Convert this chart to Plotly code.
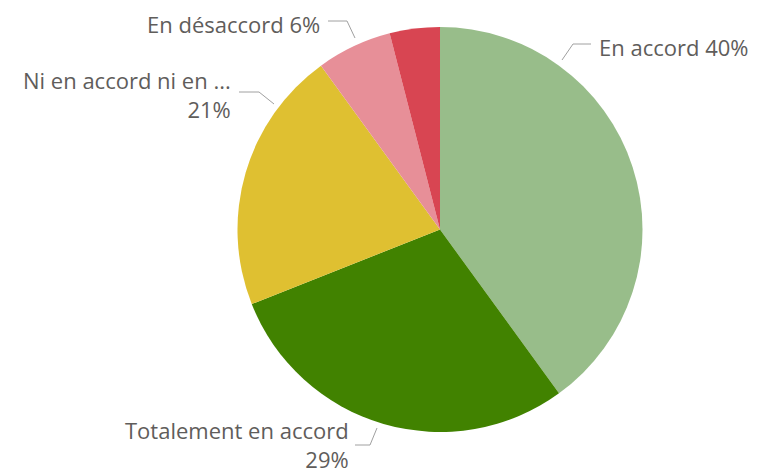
import plotly.graph_objects as go

W, H = 758, 474
OFF = 8  # page body margin offset

# Data
categories = ["En accord", "Totalement en accord", "Ni en accord ni en désaccord",
              "En désaccord", "Totalement en désaccord"]
values = [40, 29, 21, 6, 4]
colors = ["#98bd8a", "#418200", "#dfc031", "#e78f98", "#d84552"]
show_label = [True, True, True, True, False]

# Label layout (pixel positions): text anchor x, y, anchor side, two-line?, leader path
label_layout = [
    dict(x=597, y=47, side="left", two=False, path=[(562, 60), (573, 44), (591, 44)]),
    dict(x=351, y=444, side="right", two=True, path=[(377, 428), (370, 445), (355, 445)]),
    dict(x=233, y=94, side="right", two=True, path=[(274, 104), (259, 92), (239, 92)]),
    dict(x=322, y=24, side="right", two=False, path=[(355, 38), (347, 21), (328, 21)]),
    None,
]

CX, CY, R = 440, 229.5, 202.5

def px(x):
    return (x - OFF) / W

def py(y):
    return 1 - (y - OFF) / H

total = sum(values)
fig = go.Figure(go.Pie(
    labels=categories, values=values, sort=False, direction="clockwise",
    rotation=0, marker=dict(colors=colors, line=dict(width=0)),
    textinfo="none", hoverinfo="label+percent", showlegend=False,
    domain=dict(x=[px(CX - R), px(CX + R)], y=[py(CY + R), py(CY - R)]),
))

annotations = []
shapes = []
for name, v, show, lay in zip(categories, values, show_label, label_layout):
    if not show or lay is None:
        continue
    disp = name if len(name) <= 20 else name[:18] + " ..."
    pct = f"{round(v / total * 100)}%"
    text = f"{disp}<br>{pct}" if lay["two"] else f"{disp} {pct}"
    annotations.append(dict(
        x=px(lay["x"]), y=py(lay["y"]), xref="paper", yref="paper",
        text=text, showarrow=False,
        xanchor="left" if lay["side"] == "left" else "right",
        yanchor="middle", align="left" if lay["side"] == "left" else "right",
        font=dict(family="Open Sans", size=22, color="#5f5d5b"),
    ))
    p = lay["path"]
    d = "M " + " L ".join(f"{px(a)},{py(b)}" for a, b in p)
    shapes.append(dict(type="path", path=d, xref="paper", yref="paper",
                       line=dict(color="#a0a0a0", width=1)))

fig.update_layout(
    width=W, height=H, margin=dict(l=0, r=0, t=0, b=0),
    paper_bgcolor="white", plot_bgcolor="white",
    annotations=annotations, shapes=shapes,
)

fig.write_html("out.html")
